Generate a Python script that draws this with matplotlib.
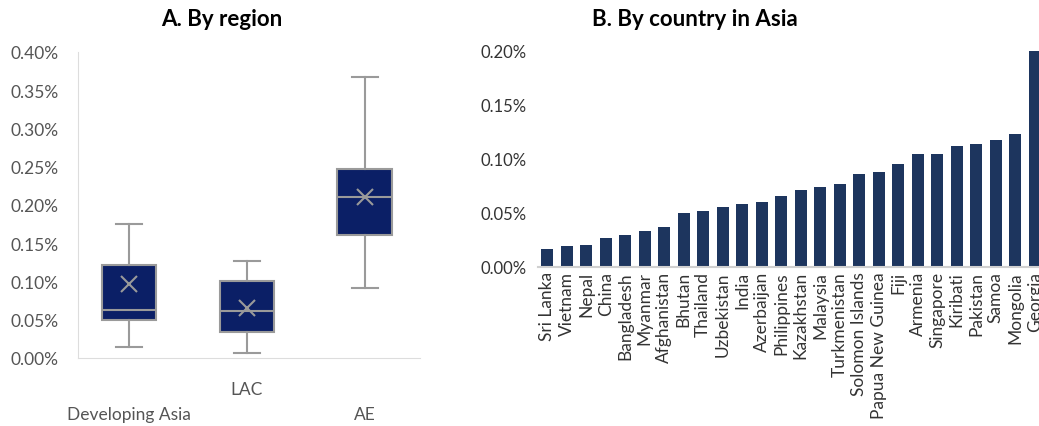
import matplotlib
matplotlib.use("Agg")
import matplotlib.pyplot as plt
from matplotlib.ticker import FuncFormatter

plt.rcParams['font.family'] = ['Lato', 'DejaVu Sans']

regions = ["Developing Asia", "LAC", "AE"]
whislo = [0.015, 0.006, 0.092]
q1 = [0.050, 0.034, 0.161]
med = [0.063, 0.061, 0.210]
q3 = [0.121, 0.101, 0.247]
whishi = [0.175, 0.127, 0.367]
means = [0.097, 0.065, 0.211]

countries = ["Sri Lanka", "Vietnam", "Nepal", "China", "Bangladesh", "Myanmar", "Afghanistan",
             "Bhutan", "Thailand", "Uzbekistan", "India", "Azerbaijan", "Philippines", "Kazakhstan",
             "Malaysia", "Turkmenistan", "Solomon Islands", "Papua New Guinea", "Fiji", "Armenia",
             "Singapore", "Kiribati", "Pakistan", "Samoa", "Mongolia", "Georgia"]
values = [0.017, 0.019, 0.020, 0.027, 0.030, 0.033, 0.037, 0.050, 0.052, 0.056, 0.058, 0.060,
          0.066, 0.071, 0.074, 0.077, 0.086, 0.088, 0.095, 0.105, 0.105, 0.112, 0.114, 0.118,
          0.123, 0.210]

navy = "#0b1f66"
bar_c = "#1d355e"
grey = "#9a9a9a"
txt = "#333333"
fig = plt.figure(figsize=(10.39, 4.27), dpi=100)

ax1 = fig.add_axes([78/1039, 68/427, 342/1039, 306/427])
stats = [dict(whislo=a, q1=b, med=c, q3=d, whishi=e, mean=f, fliers=[])
         for a, b, c, d, e, f in zip(whislo, q1, med, q3, whishi, means)]
ax1.bxp(stats, positions=[0, 1, 2], widths=0.46, patch_artist=True, showmeans=True,
        boxprops=dict(facecolor=navy, edgecolor=grey, linewidth=1.5),
        medianprops=dict(color=grey, linewidth=1.5),
        whiskerprops=dict(color=grey, linewidth=1.5),
        capprops=dict(color=grey, linewidth=1.5),
        capwidths=0.22,
        meanprops=dict(marker="x", markeredgecolor=grey, markersize=11, markeredgewidth=1.5))
ax1.set_xlim(-0.43, 2.47)
ax1.set_ylim(0, 0.40)
ax1.set_yticks([i*0.05 for i in range(9)])
ax1.yaxis.set_major_formatter(FuncFormatter(lambda v, p: f"{v:.2f}%"))
ax1.tick_params(axis='y', length=0, labelsize=12.5, labelcolor="#555555", pad=14)
ax1.set_xticks([0, 1, 2])
ax1.set_xticklabels(["", "", ""])
ax1.tick_params(axis='x', length=0)
for x, lab, y in zip([0, 1, 2], regions, [-0.073, -0.040, -0.073]):
    ax1.text(x, y, lab, ha='center', va='center', fontsize=12.5, color="#555555",
             transform=ax1.transData, clip_on=False)
for s in ["top", "right"]:
    ax1.spines[s].set_visible(False)
ax1.spines["left"].set_color("#dddddd")
ax1.spines["bottom"].set_color("#dddddd")
fig.text(222/1039, 1 - 20/427, "A. By region", ha='center', va='center',
         fontsize=16, fontweight='bold')

ax2 = fig.add_axes([537.5/1039, 159/427, 507/1039, 216/427])
ax2.bar(range(len(countries)), values, width=0.6, color=bar_c)
ax2.set_xlim(-0.5, len(countries) - 0.5)
ax2.set_ylim(0, 0.20)
ax2.set_yticks([0, 0.05, 0.10, 0.15, 0.20])
ax2.yaxis.set_major_formatter(FuncFormatter(lambda v, p: f"{v:.2f}%"))
ax2.tick_params(axis='y', length=0, labelsize=12, labelcolor=txt, pad=8)
ax2.set_xticks(range(len(countries)))
ax2.set_xticklabels(countries, rotation=90, fontsize=12.5, color=txt)
ax2.tick_params(axis='x', length=0, pad=3)
for s in ["top", "right", "left"]:
    ax2.spines[s].set_visible(False)
ax2.spines["bottom"].set_color("#d0d0d0")
ax2.spines["bottom"].set_linewidth(1.5)
fig.text(695/1039, 1 - 20/427, "B. By country in Asia", ha='center', va='center',
         fontsize=16, fontweight='bold')

fig.savefig("out.png", dpi=100)
